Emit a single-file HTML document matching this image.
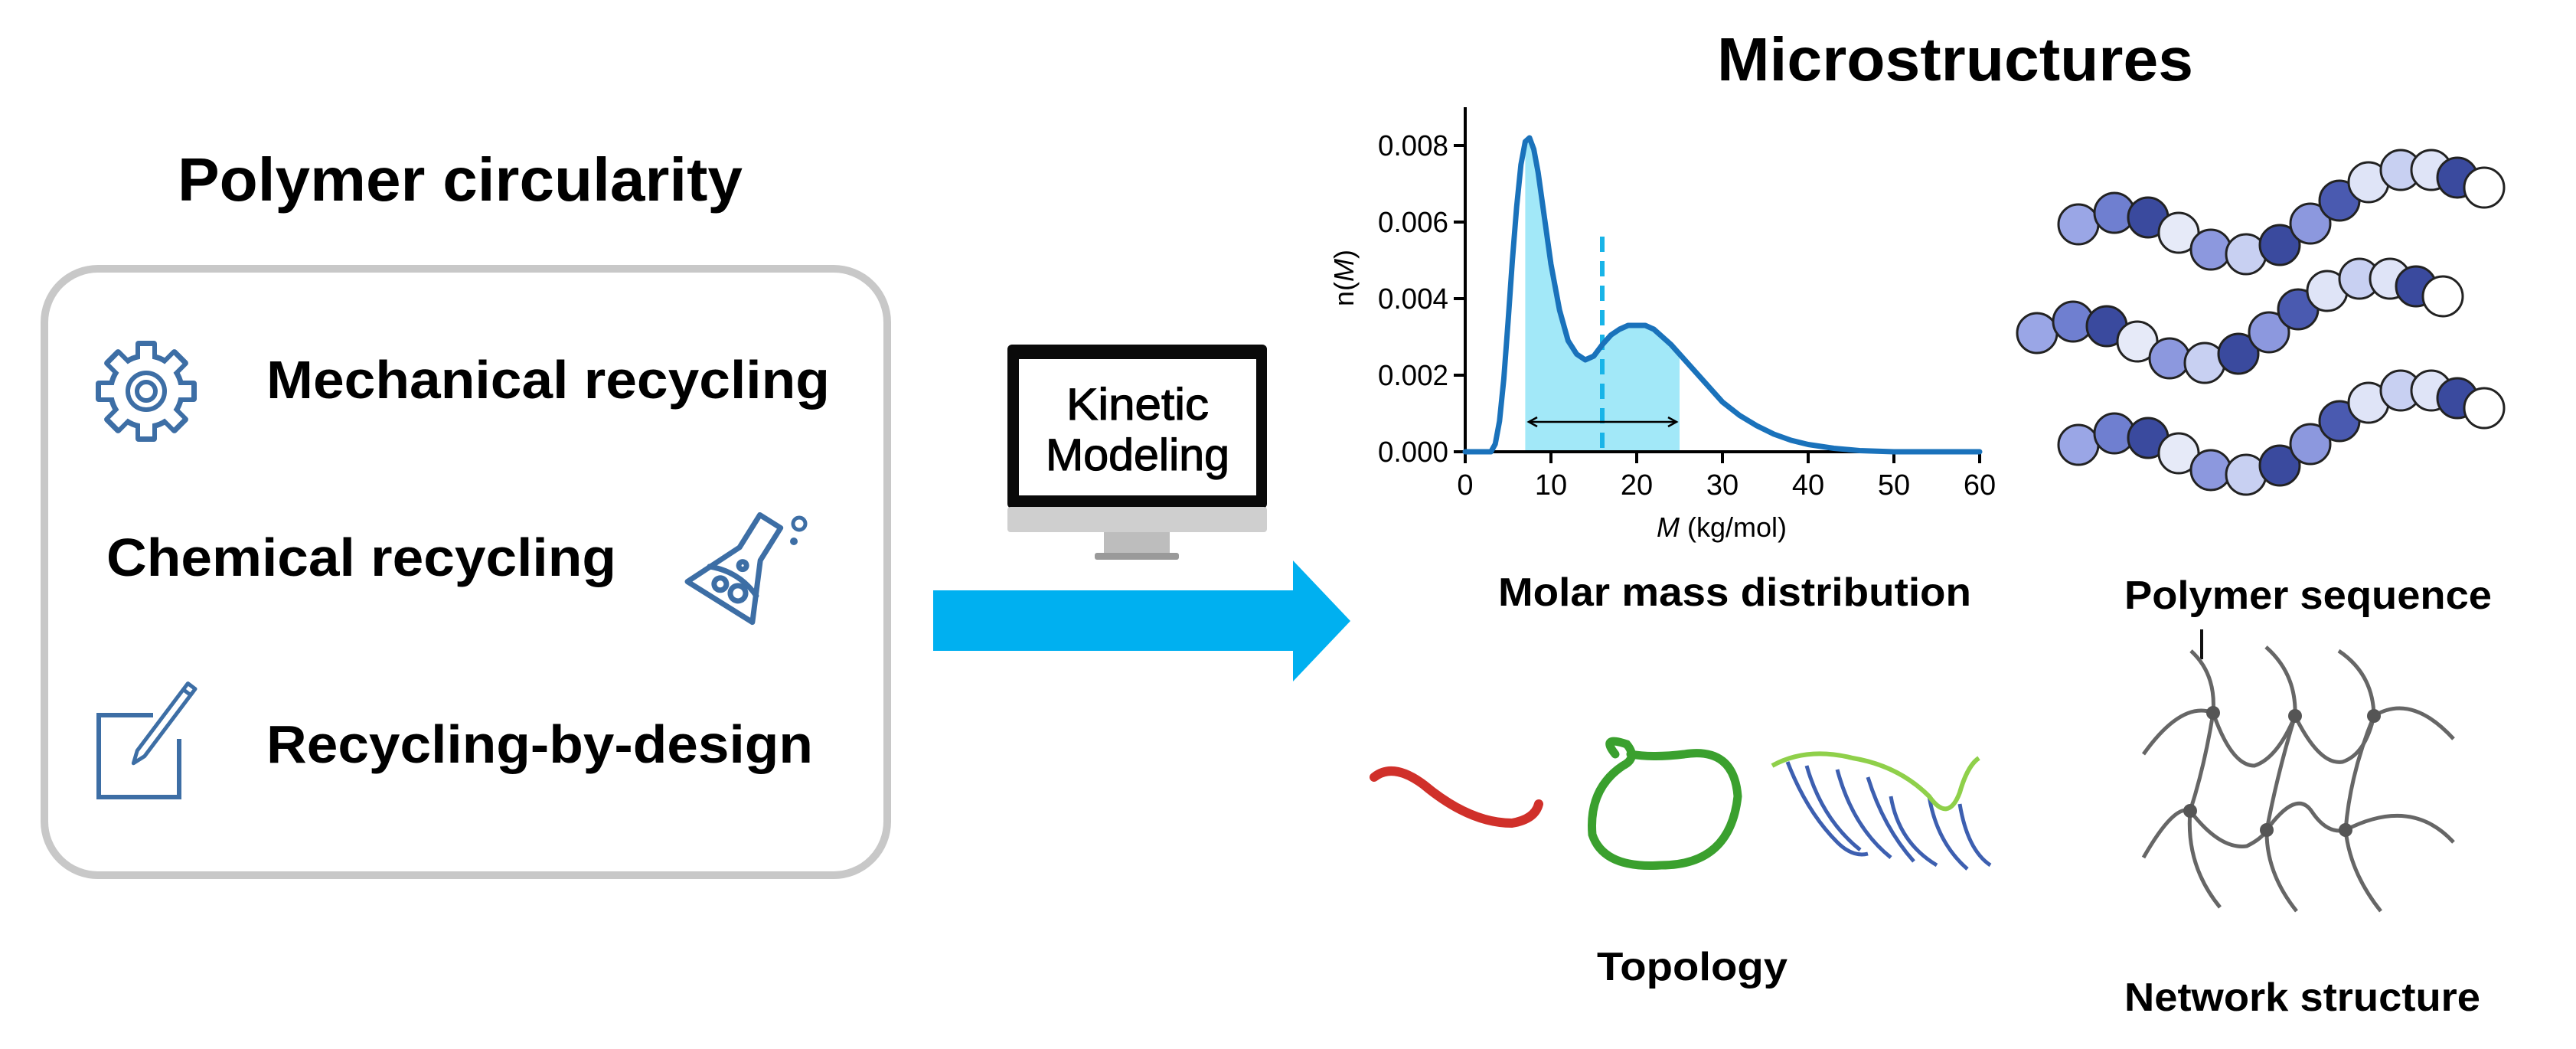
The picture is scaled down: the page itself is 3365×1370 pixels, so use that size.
<!DOCTYPE html>
<html><head><meta charset="utf-8"><style>html,body{margin:0;padding:0;background:#fff}svg{display:block}text{font-family:"Liberation Sans",Arial,sans-serif}</style></head>
<body>
<svg width="3365" height="1370" viewBox="0 0 3365 1370" xmlns="http://www.w3.org/2000/svg">
<rect width="3365" height="1370" fill="#fff"/>
<!-- Left panel -->
<text x="232" y="262" font-size="80" font-weight="bold" textLength="738" lengthAdjust="spacingAndGlyphs">Polymer circularity</text>
<rect x="58" y="351" width="1101" height="792" rx="70" ry="70" fill="#fff" stroke="#c8c8c8" stroke-width="10"/>
<text x="348" y="520" font-size="70" font-weight="bold" textLength="736" lengthAdjust="spacingAndGlyphs">Mechanical recycling</text>
<text x="139" y="752" font-size="70" font-weight="bold" textLength="666" lengthAdjust="spacingAndGlyphs">Chemical recycling</text>
<text x="348" y="996" font-size="70" font-weight="bold" textLength="714" lengthAdjust="spacingAndGlyphs">Recycling-by-design</text>
<!-- gear -->
<g transform="translate(191,511)" fill="#3d6ea5">
<circle r="50"/>
<rect x="-14" y="-66" width="28" height="30" rx="4"/><rect x="-14" y="-66" width="28" height="30" rx="4" transform="rotate(45)"/><rect x="-14" y="-66" width="28" height="30" rx="4" transform="rotate(90)"/><rect x="-14" y="-66" width="28" height="30" rx="4" transform="rotate(135)"/><rect x="-14" y="-66" width="28" height="30" rx="4" transform="rotate(180)"/><rect x="-14" y="-66" width="28" height="30" rx="4" transform="rotate(225)"/><rect x="-14" y="-66" width="28" height="30" rx="4" transform="rotate(270)"/><rect x="-14" y="-66" width="28" height="30" rx="4" transform="rotate(315)"/>
<g fill="#fff"><circle r="43"/><rect x="-8" y="-59" width="16" height="26"/><rect x="-8" y="-59" width="16" height="26" transform="rotate(45)"/><rect x="-8" y="-59" width="16" height="26" transform="rotate(90)"/><rect x="-8" y="-59" width="16" height="26" transform="rotate(135)"/><rect x="-8" y="-59" width="16" height="26" transform="rotate(180)"/><rect x="-8" y="-59" width="16" height="26" transform="rotate(225)"/><rect x="-8" y="-59" width="16" height="26" transform="rotate(270)"/><rect x="-8" y="-59" width="16" height="26" transform="rotate(315)"/></g>
<circle r="24" fill="none" stroke="#3d6ea5" stroke-width="6"/><circle r="12" fill="none" stroke="#3d6ea5" stroke-width="6"/>
</g>
<!-- flask -->
<g transform="translate(968,742) rotate(32)" fill="none" stroke="#3d6ea5" stroke-width="7" stroke-linejoin="round" stroke-linecap="round">
<path d="M-16,-72 L16,-72 L16,-22 L50,52 L-50,52 L-16,-22 Z"/>
<path d="M-36,20 Q0,5 36,20"/>
<circle cx="-12" cy="32" r="8"/><circle cx="14" cy="30" r="10"/><circle cx="0" cy="-4" r="5"/>
</g>
<circle cx="1044" cy="684" r="8" fill="none" stroke="#3d6ea5" stroke-width="5"/><circle cx="1037" cy="707" r="5" fill="#3d6ea5"/>
<!-- pencil box -->
<path d="M200,934 L129,934 L129,1041 L234,1041 L234,965" fill="none" stroke="#3d6ea5" stroke-width="6"/>
<g transform="translate(178,992) rotate(37)" fill="none" stroke="#3d6ea5" stroke-width="5" stroke-linejoin="round">
<path d="M-6,-10 L-6,-120 L6,-120 L6,-10 L0,6 Z"/><path d="M-6,-110 L6,-110"/>
</g>
<!-- monitor -->
<rect x="1316" y="450" width="339" height="214" rx="6" fill="#0a0a0a"/>
<rect x="1331" y="469" width="310" height="178" fill="#fff"/>
<rect x="1316" y="662" width="339" height="33" rx="4" fill="#cfcfcf"/>
<rect x="1442" y="695" width="86" height="30" fill="#bdbdbd"/>
<rect x="1430" y="722" width="110" height="9" rx="3" fill="#9a9a9a"/>
<text x="1486" y="548" font-size="58" text-anchor="middle" stroke="#000" stroke-width="1.2" textLength="186" lengthAdjust="spacingAndGlyphs">Kinetic</text>
<text x="1486" y="614" font-size="58" text-anchor="middle" stroke="#000" stroke-width="1.2" textLength="240" lengthAdjust="spacingAndGlyphs">Modeling</text>
<!-- arrow -->
<polygon points="1219,771 1689,771 1689,732 1764,811 1689,890 1689,850 1219,850" fill="#00b0f0"/>
<!-- Microstructures -->
<text x="2243" y="105" font-size="80" font-weight="bold" textLength="622" lengthAdjust="spacingAndGlyphs">Microstructures</text>
<!-- chart -->
<polygon points="1992.4,185 1998,180 2003.6,195 2009.2,225 2014.8,265 2020.4,305 2026,345 2037.2,405 2048.4,445 2059.6,462.5 2070.8,470 2082,465 2093.2,450 2104.4,437.5 2115.6,430 2126.8,425 2138,425 2149.2,425 2160.4,430 2171.6,440 2182.8,450 2194,462.5 2194,590 1992.4,590" fill="#a2e8f8"/>
<line x1="1914" y1="140" x2="1914" y2="605" stroke="#000" stroke-width="4"/>
<line x1="1914" y1="590" x2="2588" y2="590" stroke="#000" stroke-width="4"/>
<g stroke="#000" stroke-width="4">
<line x1="1899" y1="190" x2="1914" y2="190"/><line x1="1899" y1="290" x2="1914" y2="290"/><line x1="1899" y1="390" x2="1914" y2="390"/><line x1="1899" y1="490" x2="1914" y2="490"/><line x1="1899" y1="590" x2="1914" y2="590"/>
<line x1="2026" y1="590" x2="2026" y2="605"/><line x1="2138" y1="590" x2="2138" y2="605"/><line x1="2250" y1="590" x2="2250" y2="605"/><line x1="2362" y1="590" x2="2362" y2="605"/><line x1="2474" y1="590" x2="2474" y2="605"/><line x1="2586" y1="590" x2="2586" y2="605"/>
</g>
<g font-size="38" text-anchor="end">
<text x="1892" y="203" textLength="92" lengthAdjust="spacingAndGlyphs">0.008</text>
<text x="1892" y="303" textLength="92" lengthAdjust="spacingAndGlyphs">0.006</text>
<text x="1892" y="403" textLength="92" lengthAdjust="spacingAndGlyphs">0.004</text>
<text x="1892" y="503" textLength="92" lengthAdjust="spacingAndGlyphs">0.002</text>
<text x="1892" y="603" textLength="92" lengthAdjust="spacingAndGlyphs">0.000</text>
</g>
<g font-size="38" text-anchor="middle">
<text x="1914" y="646">0</text><text x="2026" y="646">10</text><text x="2138" y="646">20</text><text x="2250" y="646">30</text><text x="2362" y="646">40</text><text x="2474" y="646">50</text><text x="2586" y="646">60</text>
</g>
<text x="2249" y="701" font-size="36" text-anchor="middle"><tspan font-style="italic">M</tspan> (kg/mol)</text>
<text transform="translate(1768,363) rotate(-90)" font-size="36" text-anchor="middle">n(<tspan font-style="italic">M</tspan>)</text>
<line x1="2093" y1="309" x2="2093" y2="590" stroke="#18b4e8" stroke-width="6" stroke-dasharray="20,12"/>
<g stroke="#000" stroke-width="2.5" fill="none"><line x1="1997" y1="551" x2="2190" y2="551"/><path d="M2008,545 L1997,551 L2008,557 M2179,545 L2190,551 L2179,557"/></g>
<polyline points="1914,590 1947.6,590 1953.2,580 1958.8,550 1964.4,495 1970,420 1975.6,340 1981.2,270 1986.8,215 1992.4,185 1998,180 2003.6,195 2009.2,225 2014.8,265 2020.4,305 2026,345 2037.2,405 2048.4,445 2059.6,462.5 2070.8,470 2082,465 2093.2,450 2104.4,437.5 2115.6,430 2126.8,425 2138,425 2149.2,425 2160.4,430 2171.6,440 2182.8,450 2194,462.5 2205.2,475 2216.4,487.5 2227.6,500 2238.8,512.5 2250,525 2272.4,542.5 2294.8,556 2317.2,567 2339.6,575 2362,580.5 2395.6,585.5 2429.2,588.5 2474,590 2586,590" fill="none" stroke="#1a72bb" stroke-width="7" stroke-linejoin="round" stroke-linecap="round"/>
<text x="1957" y="791" font-size="52" font-weight="bold" textLength="618" lengthAdjust="spacingAndGlyphs">Molar mass distribution</text>
<!-- polymer sequences -->
<g id="chain" stroke="#222" stroke-width="3">
<circle cx="2715" cy="293" r="26" fill="#9aa6e6"/><circle cx="2762" cy="278" r="26" fill="#6f7fd0"/><circle cx="2806" cy="284" r="26" fill="#3a4a9e"/><circle cx="2846" cy="304" r="26" fill="#e6eaf8"/><circle cx="2888" cy="326" r="26" fill="#8c98de"/><circle cx="2934" cy="332" r="26" fill="#c8d0f2"/><circle cx="2978" cy="320" r="26" fill="#3a4a9e"/><circle cx="3018" cy="292" r="26" fill="#8c98de"/><circle cx="3056" cy="262" r="26" fill="#4a5ab0"/><circle cx="3094" cy="238" r="26" fill="#dfe4f7"/><circle cx="3136" cy="222" r="26" fill="#c8d0f2"/><circle cx="3176" cy="222" r="26" fill="#dfe4f7"/><circle cx="3210" cy="232" r="26" fill="#3a4a9e"/><circle cx="3245" cy="245" r="26" fill="#fff"/>
</g>
<use href="#chain" transform="translate(-54,142)"/>
<use href="#chain" transform="translate(0,288)"/>
<text x="2775" y="795" font-size="52" font-weight="bold" textLength="480" lengthAdjust="spacingAndGlyphs">Polymer sequence</text>
<!-- network -->
<g fill="none" stroke="#666" stroke-width="5">
<line x1="2876" y1="822" x2="2876" y2="861" stroke="#111" stroke-width="4"/>
<path d="M2862,850 Q2895,880 2891,931 Q2880,1000 2861,1059 Q2855,1130 2900,1185"/>
<path d="M2960,845 Q3000,880 2998,935 Q2975,1010 2961,1084 Q2960,1140 3000,1190"/>
<path d="M3055,850 Q3100,880 3101,935 Q3070,1010 3064,1084 Q3070,1140 3110,1190"/>
<path d="M2800,985 Q2850,915 2891,931 Q2915,1000 2945,1000 Q2975,990 2998,935 Q3030,1000 3060,995 Q3090,985 3101,935 Q3150,905 3205,965"/>
<path d="M2800,1120 Q2840,1050 2861,1059 Q2900,1110 2935,1105 Q2955,1095 2961,1084 Q3000,1030 3020,1060 Q3040,1090 3064,1084 Q3150,1040 3205,1100"/>
</g>
<g fill="#555"><circle cx="2891" cy="931" r="9"/><circle cx="2998" cy="935" r="9"/><circle cx="3101" cy="935" r="9"/><circle cx="2861" cy="1059" r="9"/><circle cx="2961" cy="1084" r="9"/><circle cx="3064" cy="1084" r="9"/></g>
<text x="2775" y="1320" font-size="52" font-weight="bold" textLength="465" lengthAdjust="spacingAndGlyphs">Network structure</text>
<!-- topology -->
<path d="M1795,1015 Q1820,995 1860,1025 Q1920,1075 1975,1075 Q2005,1070 2010,1050" fill="none" stroke="#d0302a" stroke-width="12" stroke-linecap="round"/>
<path d="M2110,985 Q2090,960 2125,972 Q2140,990 2120,1000 Q2075,1030 2080,1090 Q2095,1135 2170,1130 Q2260,1130 2270,1040 Q2265,975 2200,985 Q2160,990 2130,985" fill="none" stroke="#3aa02e" stroke-width="11" stroke-linecap="round"/>
<g fill="none" stroke="#3d5fb0" stroke-width="5">
<path d="M2335,995 Q2360,1060 2400,1100 Q2420,1120 2440,1115"/>
<path d="M2360,1000 Q2380,1070 2430,1110"/>
<path d="M2400,1005 Q2420,1080 2470,1120"/>
<path d="M2440,1015 Q2460,1080 2500,1125"/>
<path d="M2470,1040 Q2480,1100 2530,1130"/>
<path d="M2520,1040 Q2530,1100 2570,1135"/>
<path d="M2560,1050 Q2570,1110 2600,1130"/>
</g>
<path d="M2315,1000 Q2360,975 2420,990 Q2480,1000 2520,1040 Q2545,1075 2560,1035 Q2570,1000 2585,990" fill="none" stroke="#8fd04a" stroke-width="6"/>
<text x="2086" y="1280" font-size="52" font-weight="bold" textLength="249" lengthAdjust="spacingAndGlyphs">Topology</text>
</svg>
</body></html>
